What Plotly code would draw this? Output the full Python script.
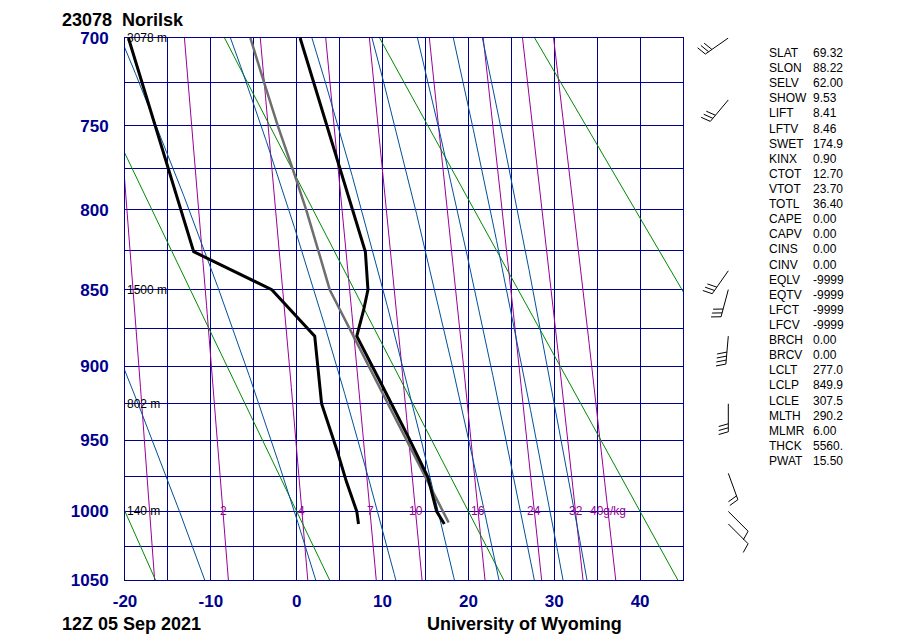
import numpy as np
import plotly.graph_objects as go

# ---------------- data ----------------
station_title = "23078  Norilsk"
time_label = "12Z 05 Sep 2021"
credit = "University of Wyoming"

# observed temperature (right black line)
temp_p = [1009, 1000, 976, 950, 912, 880, 863, 850, 826, 700]
temp_c = [17.2, 16.3, 15.3, 13.2, 9.9, 7.0, 7.8, 8.3, 8.0, 0.4]
# observed dew point (left black line)
dwpt_p = [1009, 1000, 979, 957, 925, 901, 880, 850, 826, 700]
dwpt_c = [7.2, 7.0, 5.8, 4.7, 2.9, 2.5, 2.1, -2.9, -12.0, -19.6]
# lifted parcel (grey line)
parcel_p = [1008, 850, 825, 800, 775, 750, 725, 700]
parcel_c = [17.7, 3.85, 2.5, 1.1, -0.5, -2.2, -3.8, -5.4]

# height labels
height_p = [700, 850, 925, 1000]
height_txt = ["3078 m", "1500 m", "802 m", "140 m"]

# winds
wind_p = [700, 735, 838, 850, 880, 925, 973, 1000, 1009]
wind_dir = [235, 220, 215, 195, 185, 180, 160, 135, 135]
wind_kt = [30, 30, 30, 30, 40, 30, 20, 10, 10]

# background line families
dry_theta_c = [-20, 0, 20, 40, 60, 80]
moist_thetae_c = [-10, 10, 30, 50, 70, 90, 110, 130]
mixr_gkg = [1, 2, 4, 7, 10, 16, 24, 32, 40]
mixr_labels = {2: "2", 4: "4", 7: "7", 10: "10", 16: "16", 24: "24", 32: "32", 40: "40g/kg"}

# axis ticks
p_grid = list(range(700, 1051, 25))
p_labels = [str(p) if p % 50 == 0 else "" for p in p_grid]
t_grid = list(range(-20, 46, 5))
t_labels = [str(t) if t % 10 == 0 else "" for t in t_grid]

# station indices
index_names = ["SLAT", "SLON", "SELV", "SHOW", "LIFT", "LFTV", "SWET", "KINX", "CTOT", "VTOT",
               "TOTL", "CAPE", "CAPV", "CINS", "CINV", "EQLV", "EQTV", "LFCT", "LFCV", "BRCH",
               "BRCV", "LCLT", "LCLP", "LCLE", "MLTH", "MLMR", "THCK", "PWAT"]
index_values = ["69.32", "88.22", "62.00", "9.53", "8.41", "8.46", "174.9", "0.90", "12.70", "23.70",
                "36.40", "0.00", "0.00", "0.00", "0.00", "-9999", "-9999", "-9999", "-9999", "0.00",
                "0.00", "277.0", "849.9", "307.5", "290.2", "6.00", "5560.", "15.50"]

# ---------------- geometry / style ----------------
W, H = 899, 639
PAD = 8  # page body margin offset
X0, X1, Y0, Y1 = 125, 683, 38, 580
KAPPA = 0.286
NAVY = "#00008f"
MAG = "#990099"
GREEN = "#008a00"
MBLUE = "#00509a"
FONT = "Liberation Sans, Arial, Helvetica, sans-serif"


def xp(x):
    return (x - PAD) / W


def yp(y):
    return 1 - (y - PAD) / H


def pk(p):
    return np.asarray(p, dtype=float) ** KAPPA


def es(t):
    return 6.112 * np.exp(17.67 * t / (t + 243.5))


def rsat(p, t):
    e = es(t)
    return 0.622 * e / (p - e)


def moist_lapse(p, t):
    tk = t + 273.15
    rs = rsat(p, t)
    Rd, cp, Lv, eps = 287.04, 1005.7, 2.501e6, 0.622
    return (Rd * tk + Lv * rs) / (p * (cp + Lv * Lv * rs * eps / (Rd * tk * tk)))


def theta_e_sat(t, p=1000.0):
    tk = t + 273.15
    r = rsat(p, t) * 1000.0
    th = tk * (1000.0 / p) ** (0.2854 * (1 - 0.00028 * r))
    return th * np.exp((3.376 / tk - 0.00254) * r * (1 + 0.00081 * r))


def start_temp(the_c):
    lo, hi = -70.0, 45.0
    target = the_c + 273.15
    for _ in range(60):
        mid = 0.5 * (lo + hi)
        if theta_e_sat(mid) < target:
            lo = mid
        else:
            hi = mid
    return 0.5 * (lo + hi)


def moist_curve(t0, p0=1000.0, ptop=680.0, pbot=1065.0, dp=1.0):
    def run(step, pend):
        ps, ts = [p0], [t0]
        p, t = p0, t0
        while (step < 0 and p > pend) or (step > 0 and p < pend):
            k1 = moist_lapse(p, t)
            k2 = moist_lapse(p + step / 2, t + k1 * step / 2)
            k3 = moist_lapse(p + step / 2, t + k2 * step / 2)
            k4 = moist_lapse(p + step, t + k3 * step)
            t = t + step * (k1 + 2 * k2 + 2 * k3 + k4) / 6
            p = p + step
            ps.append(p)
            ts.append(t)
        return ps, ts
    pu, tu = run(-dp, ptop)
    pd_, td = run(dp, pbot)
    return pu[::-1] + pd_[1:], tu[::-1] + td[1:]


def mixr_temp(w, p):
    e = w * p / (622.0 + w)
    l = np.log(e / 6.112)
    return 243.5 * l / (17.67 - l)


fig = go.Figure()
pp = np.linspace(680, 1065, 80)

# mixing ratio lines
for w in mixr_gkg:
    fig.add_trace(go.Scatter(x=mixr_temp(w, pp), y=pk(pp), mode="lines",
                             line=dict(color=MAG, width=1), hoverinfo="skip", showlegend=False))
# dry adiabats
for th in dry_theta_c:
    tt = (th + 273.15) * (pp / 1000.0) ** 0.2857 - 273.15
    fig.add_trace(go.Scatter(x=tt, y=pk(pp), mode="lines",
                             line=dict(color=GREEN, width=1), hoverinfo="skip", showlegend=False))
# moist adiabats
for the in moist_thetae_c:
    mp, mt = moist_curve(start_temp(the))
    fig.add_trace(go.Scatter(x=mt, y=pk(mp), mode="lines",
                             line=dict(color=MBLUE, width=1), hoverinfo="skip", showlegend=False))

# sounding
fig.add_trace(go.Scatter(x=parcel_c, y=pk(parcel_p), mode="lines",
                         line=dict(color="#6e6e6e", width=2.5), showlegend=False))
fig.add_trace(go.Scatter(x=temp_c, y=pk(temp_p), mode="lines",
                         line=dict(color="black", width=3), showlegend=False))
fig.add_trace(go.Scatter(x=dwpt_c, y=pk(dwpt_p), mode="lines",
                         line=dict(color="black", width=3), showlegend=False))

# wind barbs on second axis pair (x in pixels)
S = float(pk(1050) - pk(700)) / (Y1 - Y0)
BASE_X, L, F, GAP = 38.3, 28.0, 10.0, 4.0
a = np.radians(74)
bx, by = [], []
for p, d, spd in zip(wind_p, wind_dir, wind_kt):
    th = np.radians(d)
    ux, uy = np.sin(th), -np.cos(th)
    y0 = float(pk(p))
    ex, ey = ux * L, uy * L
    bx += [BASE_X, BASE_X + ex, None]
    by += [y0, y0 + ey * S, None]
    fx = ux * np.cos(a) - uy * np.sin(a)
    fy = ux * np.sin(a) + uy * np.cos(a)
    nfull = spd // 10
    half = (spd % 10) >= 5
    k = 0
    for i in range(nfull):
        sx, sy = ex - ux * k * GAP, ey - uy * k * GAP
        bx += [BASE_X + sx, BASE_X + sx + fx * F, None]
        by += [y0 + sy * S, y0 + (sy + fy * F) * S, None]
        k += 1
    if half:
        sx, sy = ex - ux * k * GAP, ey - uy * k * GAP
        bx += [BASE_X + sx, BASE_X + sx + fx * F / 2, None]
        by += [y0 + sy * S, y0 + (sy + fy * F / 2) * S, None]
fig.add_trace(go.Scatter(x=bx, y=by, mode="lines", line=dict(color="black", width=1),
                         xaxis="x2", yaxis="y2", showlegend=False, hoverinfo="skip"))

ann = []
# mixing ratio labels
for w, txt in mixr_labels.items():
    ann.append(dict(x=float(mixr_temp(w, 1000.0)), y=float(pk(1000)), xref="x", yref="y", text=txt,
                    showarrow=False, xanchor="center", yanchor="middle",
                    font=dict(family=FONT, size=12, color=MAG)))
# height labels
for p, txt in zip(height_p, height_txt):
    ann.append(dict(x=-20, y=float(pk(p)), xref="x", yref="y", text=txt, showarrow=False,
                    xanchor="left", yanchor="middle", xshift=0,
                    font=dict(family=FONT, size=12, color="black")))
# station indices
for i, (n, v) in enumerate(zip(index_names, index_values)):
    ypx = 53 + i * 15.11
    ann.append(dict(x=xp(767), y=yp(ypx), xref="paper", yref="paper", text=n, showarrow=False,
                    xanchor="left", yanchor="middle", font=dict(family=FONT, size=12, color="black")))
    ann.append(dict(x=xp(811), y=yp(ypx), xref="paper", yref="paper", text=v, showarrow=False,
                    xanchor="left", yanchor="middle", font=dict(family=FONT, size=12, color="black")))
# titles
ann.append(dict(x=xp(60), y=yp(20), xref="paper", yref="paper", text="<b>" + station_title + "</b>",
                showarrow=False, xanchor="left", yanchor="middle",
                font=dict(family=FONT, size=18, color="black")))
ann.append(dict(x=xp(60), y=yp(624), xref="paper", yref="paper", text="<b>" + time_label + "</b>",
                showarrow=False, xanchor="left", yanchor="middle",
                font=dict(family=FONT, size=18, color="black")))
ann.append(dict(x=xp(425), y=yp(624), xref="paper", yref="paper", text="<b>" + credit + "</b>",
                showarrow=False, xanchor="left", yanchor="middle",
                font=dict(family=FONT, size=18, color="black")))

ydom = [yp(Y1), yp(Y0)]
fig.update_layout(
    template="none",
    width=W, height=H, autosize=False,
    margin=dict(l=0, r=0, t=0, b=0, autoexpand=False),
    paper_bgcolor="white", plot_bgcolor="white",
    showlegend=False,
    annotations=ann,
    xaxis=dict(domain=[xp(X0), xp(X1)], range=[-20, 45], tickvals=t_grid, ticktext=t_labels,
               automargin=False,
               showgrid=True, gridcolor=NAVY, gridwidth=1, zeroline=False,
               showline=True, mirror=True, linecolor=NAVY, linewidth=1,
               ticks="", ticklabelstandoff=6,
               tickfont=dict(family=FONT, size=17, color=NAVY, weight="bold"), anchor="y"),
    yaxis=dict(domain=ydom, range=[float(pk(1050)), float(pk(700))], tickvals=[float(v) for v in pk(p_grid)],
               automargin=False,
               ticktext=p_labels, showgrid=True, gridcolor=NAVY, gridwidth=1, zeroline=False,
               showline=True, mirror=True, linecolor=NAVY, linewidth=1,
               ticks="", ticklabelstandoff=12,
               tickfont=dict(family=FONT, size=17, color=NAVY, weight="bold"), anchor="x"),
    xaxis2=dict(domain=[xp(690), xp(770)], range=[0, 80], visible=False, anchor="y2", automargin=False),
    yaxis2=dict(domain=ydom, range=[float(pk(1050)), float(pk(700))], visible=False, anchor="x2",
                automargin=False),
)

fig.write_html("out.html")
